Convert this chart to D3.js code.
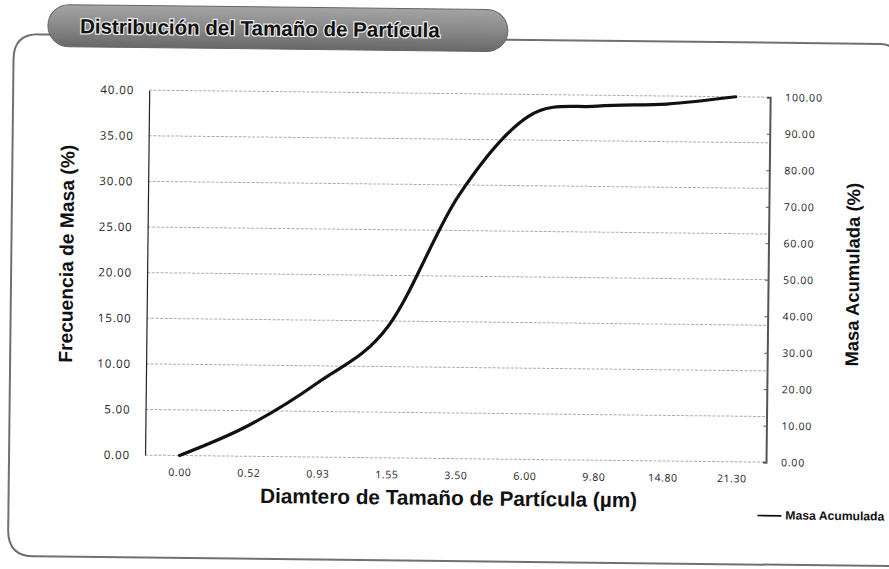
<!DOCTYPE html>
<html>
<head>
<meta charset="utf-8">
<script src="https://cdn.jsdelivr.net/npm/d3@7"></script>
<style>
  html, body { margin: 0; padding: 0; background: #ffffff; }
  svg { display: block; }
</style>
</head>
<body>
<div id="chart"></div>
<script>
// ---- data ----
const categories = ["0.00", "0.52", "0.93", "1.55", "3.50", "6.00", "9.80", "14.80", "21.30"];
const masaAcumulada = [0, 8.5, 20.5, 36.0, 72.0, 94.0, 97.0, 97.8, 100.0];
const leftTicks = [0, 5, 10, 15, 20, 25, 30, 35, 40];
const rightTicks = [0, 10, 20, 30, 40, 50, 60, 70, 80, 90, 100];
const chartTitle = "Distribución del Tamaño de Partícula";
const leftTitle = "Frecuencia de Masa (%)";
const rightTitle = "Masa Acumulada (%)";
const xTitle = "Diamtero de Tamaño de Partícula (µm)";
const legendLabel = "Masa Acumulada";

const W = 889, H = 569;
const plot = { left: 147, right: 768, top: 93.5, bottom: 458.5 };

const svg = d3.select("#chart").append("svg")
  .attr("width", W).attr("height", H);

const defs = svg.append("defs");
const grad = defs.append("linearGradient").attr("id", "pill")
  .attr("x1", 0).attr("y1", 0).attr("x2", 0).attr("y2", 1);
grad.append("stop").attr("offset", "0%").attr("stop-color", "#a4a4a4");
grad.append("stop").attr("offset", "55%").attr("stop-color", "#868686");
grad.append("stop").attr("offset", "100%").attr("stop-color", "#686868");

// whole scanned page is slightly rotated
const root = svg.append("g").attr("transform", "rotate(0.65, 445, 285)");

function fit(sel, w) {
  const l = sel.node().getComputedTextLength();
  const fs = parseFloat(sel.attr("font-size"));
  sel.attr("font-size", (fs * w / l).toFixed(2));
}

// ---- frame ----
root.append("path")
  .attr("d", "M 50 39 L 36 39 Q 11 39 11 64 L 11 535 Q 11 561 37 561 L 900 561 M 500 39 L 878 39 Q 895 39 895 60")
  .attr("fill", "none").attr("stroke", "#707070").attr("stroke-width", 2);

// ---- title pill ----
root.append("rect")
  .attr("x", 45).attr("y", 9).attr("width", 460).attr("height", 42).attr("rx", 21)
  .attr("fill", "url(#pill)").attr("stroke", "#666").attr("stroke-width", 1);
const tt = root.append("text")
  .attr("x", 257).attr("y", 37.5)
  .attr("text-anchor", "middle")
  .attr("font-family", "'Liberation Sans', Arial, sans-serif")
  .attr("font-weight", "bold").attr("font-size", 16)
  .attr("fill", "#111").attr("stroke", "#e8e8e8").attr("stroke-width", 2.4)
  .attr("paint-order", "stroke")
  .text(chartTitle);
fit(tt, 360);

// ---- scales ----
const x = d3.scalePoint().domain(categories).range([plot.left, plot.right]).padding(0.5);
const yL = d3.scaleLinear().domain([0, 40]).range([plot.bottom, plot.top]);
const yR = d3.scaleLinear().domain([0, 100]).range([plot.bottom, plot.top]);

// gridlines
root.append("g").selectAll("line").data(leftTicks).join("line")
  .attr("x1", plot.left).attr("x2", plot.right)
  .attr("y1", d => yL(d)).attr("y2", d => yL(d))
  .attr("stroke", "#ababab").attr("stroke-width", 1)
  .attr("stroke-dasharray", "3,1.5");

// left axis
const gL = root.append("g").attr("transform", `translate(${plot.left},0)`)
  .call(d3.axisLeft(yL).tickValues(leftTicks).tickFormat(d3.format(".2f")).tickSize(0).tickPadding(15));
gL.select(".domain").attr("stroke", "#222").attr("stroke-width", 1.2);
gL.selectAll("text").attr("font-family", "'Open Sans', sans-serif").attr("font-size", 11.5)
  .attr("letter-spacing", 0.9).attr("fill", "#222");

// right axis
const gR = root.append("g").attr("transform", `translate(${plot.right},0)`)
  .call(d3.axisRight(yR).tickValues(rightTicks).tickFormat(d3.format(".2f")).tickSize(-3).tickPadding(15));
gR.select(".domain").attr("stroke", "#555").attr("stroke-width", 2);
gR.selectAll(".tick line").attr("stroke", "#555");
gR.selectAll("text").attr("font-family", "'Open Sans', sans-serif").attr("font-size", 10.5)
  .attr("letter-spacing", 0.8).attr("fill", "#222");

// x axis
const gX = root.append("g").attr("transform", `translate(0,${plot.bottom})`)
  .call(d3.axisBottom(x).tickSize(0).tickPadding(13));
gX.select(".domain").remove();
gX.selectAll("text").attr("font-family", "'Open Sans', sans-serif").attr("font-size", 10.5)
  .attr("letter-spacing", 0.6).attr("fill", "#222");

// ---- line ----
const line = d3.line()
  .x((d, i) => x(categories[i]))
  .y(d => yR(d))
  .curve(d3.curveCardinal.tension(0));
root.append("path").datum(masaAcumulada)
  .attr("d", line)
  .attr("fill", "none").attr("stroke", "#111").attr("stroke-width", 3.2)
  .attr("stroke-linecap", "round");

// ---- axis titles ----
const tL = root.append("text")
  .attr("transform", "translate(73,258) rotate(-90)")
  .attr("text-anchor", "middle")
  .attr("font-family", "'Liberation Sans', Arial, sans-serif")
  .attr("font-weight", "bold").attr("font-size", 16).attr("fill", "#111")
  .text(leftTitle);
fit(tL, 218);

const tR = root.append("text")
  .attr("transform", "translate(859,270) rotate(-90)")
  .attr("text-anchor", "middle")
  .attr("font-family", "'Liberation Sans', Arial, sans-serif")
  .attr("font-weight", "bold").attr("font-size", 16).attr("fill", "#111")
  .text(rightTitle);
fit(tR, 184);

const tX = root.append("text")
  .attr("x", 451).attr("y", 505)
  .attr("text-anchor", "middle")
  .attr("font-family", "'Liberation Sans', Arial, sans-serif")
  .attr("font-weight", "bold").attr("font-size", 16).attr("fill", "#111")
  .text(xTitle);
fit(tX, 377);

// ---- legend ----
const lg = root.append("g").attr("transform", "translate(760,512)");
lg.append("line").attr("x1", 0).attr("x2", 24).attr("y1", 0).attr("y2", 0)
  .attr("stroke", "#111").attr("stroke-width", 1.6);
const lt = lg.append("text").attr("x", 28).attr("y", 3.5)
  .attr("font-family", "'Liberation Sans', Arial, sans-serif")
  .attr("font-weight", "bold").attr("font-size", 10).attr("fill", "#111")
  .text(legendLabel);
fit(lt, 99);
</script>
</body>
</html>
